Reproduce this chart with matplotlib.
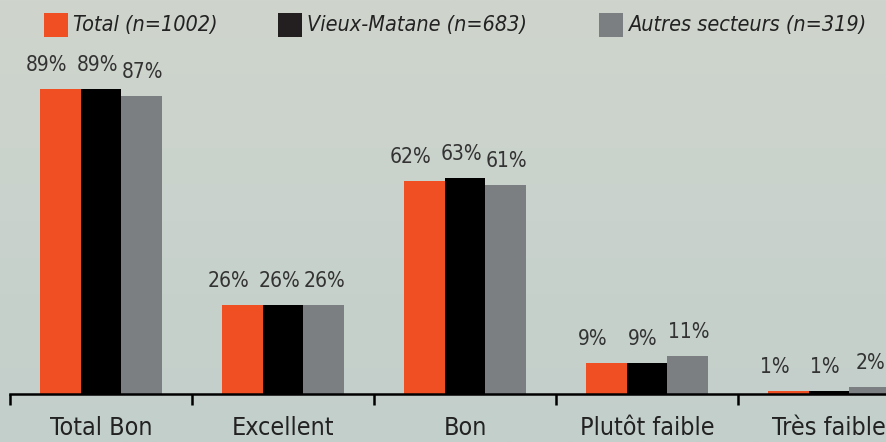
import os
import matplotlib
matplotlib.use("Agg")
import matplotlib.pyplot as plt
import matplotlib.transforms as mtransforms
from matplotlib import font_manager
import numpy as np

categories = ["Total Bon", "Excellent", "Bon", "Plutôt faible", "Très faible"]
series_names = ["Total (n=1002)", "Vieux-Matane (n=683)", "Autres secteurs (n=319)"]
total = [89, 26, 62, 9, 1]
vieux_matane = [89, 26, 63, 9, 1]
autres = [87, 26, 61, 11, 2]
colors = ["#f04e23", "#000000", "#7b7f81"]
legend_colors = ["#f04e23", "#231f20", "#7b7f81"]


def pick_font(prefs, fallback_style="normal"):
    # look for a narrow face among the installed files
    files = {os.path.splitext(os.path.basename(f.fname))[0]: f.fname
             for f in font_manager.fontManager.ttflist}
    for p in prefs:
        if p in files:
            return font_manager.FontProperties(fname=files[p])
    return font_manager.FontProperties(family="DejaVu Sans", stretch="condensed",
                                       style=fallback_style)


regular = pick_font(["NotoSans-CondensedLight", "NotoSans-Condensed",
                     "LiberationSansNarrow-Regular", "DejaVuSansCondensed"])
italic = pick_font(["NotoSans-CondensedLightItalic", "NotoSans-CondensedItalic",
                    "LiberationSansNarrow-Italic", "DejaVuSansCondensed-Oblique"],
                   fallback_style="italic")

fig = plt.figure(figsize=(8.86, 4.42), dpi=100)

# soft vertical gradient background
bg = fig.add_axes([0, 0, 1, 1], zorder=-10)
grad = np.linspace(0, 1, 256).reshape(-1, 1)
top = np.array([0xcf, 0xd5, 0xcd]) / 255
bot = np.array([0xc3, 0xcf, 0xcb]) / 255
img = top + (bot - top) * grad[..., None]
bg.imshow(img, aspect="auto", extent=[0, 1, 0, 1])
bg.axis("off")

ax = fig.add_axes([10 / 886, 48 / 442, 876 / 886, 394 / 442])
ax.patch.set_alpha(0)

x = np.arange(len(categories))
w = 0.223
label_shift = [-14, -4, 1]  # labels sit a bit left of their bars
for i, vals in enumerate([total, vieux_matane, autres]):
    pos = x + (i - 1) * w
    ax.bar(pos, vals, width=w, color=colors[i], linewidth=0)
    tr = ax.transData + mtransforms.ScaledTranslation(label_shift[i] / 100, 14 / 100,
                                                      fig.dpi_scale_trans)
    for px, v in zip(pos, vals):
        t = ax.text(px, v, f"{v}%", ha="center", va="bottom",
                    fontproperties=regular, color="#333333", transform=tr)
        t.set_fontsize(15)

for s in ["top", "right", "left"]:
    ax.spines[s].set_visible(False)
ax.spines["bottom"].set_linewidth(1.8)
ax.set_yticks([])

ax.set_xticks(np.arange(len(categories) + 1) - 0.5)
ax.set_xticklabels([])
ax.tick_params(axis="x", which="major", length=8, width=1.8, direction="out")
ax.set_xticks(x, minor=True)
ax.set_xticklabels(categories, minor=True)
for lab in ax.get_xticklabels(minor=True):
    lab.set_fontproperties(regular)
    lab.set_fontsize(18)
    lab.set_color("#222222")
ax.tick_params(axis="x", which="minor", length=0, pad=16)

ax.set_xlim(-0.5, -0.5 + 876 / 182)
ax.set_ylim(0, 114.9)

# legend row at top
leg_x = [44, 278, 599]
for lx, name, c in zip(leg_x, series_names, legend_colors):
    fig.patches.append(plt.Rectangle((lx / 886, (442 - 37) / 442), 24 / 886, 24 / 442,
                                     transform=fig.transFigure, color=c, lw=0))
    t = fig.text((lx + 29) / 886, (442 - 25) / 442, name, ha="left", va="center",
                 fontproperties=italic, color="#222222")
    t.set_fontsize(15.5)

fig.savefig("out.png", dpi=100)
